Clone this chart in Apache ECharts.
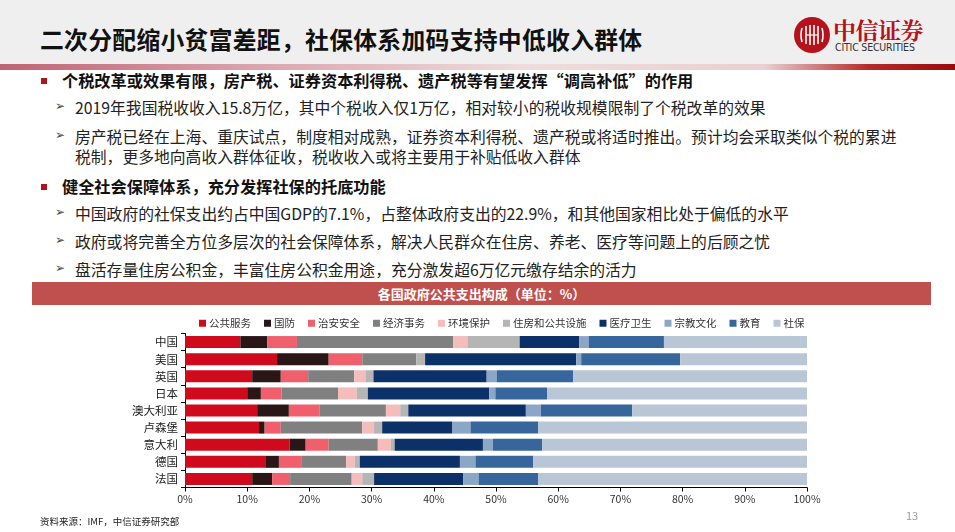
<!DOCTYPE html>
<html>
<head>
<meta charset="utf-8">
<script src="https://cdn.jsdelivr.net/npm/echarts@6/dist/echarts.min.js"></script>
<style>
  body { margin: 0; width: 955px; height: 532px; overflow: hidden; background: #fff;
         font-family: "Noto Sans CJK SC", sans-serif; color: #1a1a1a; position: relative; }
  .abs { position: absolute; white-space: nowrap; }
  #head { left: 0; top: 0; width: 955px; height: 64px; background: #efefef; }
  #band { left: 0; top: 64px; width: 955px; height: 6px;
          background: linear-gradient(to right, #c06272 0%, #d9a0aa 25%, #eedcdc 55%, #ead0d0 80%, #b52a2a 91%, #9a0a0a 100%); }
  #title { left: 40px; top: 21px; font-size: 23.8px; font-weight: bold; color: #111; letter-spacing: 0.3px; }
  .b1 { font-size: 16.2px; font-weight: bold; color: #111; }
  .sq { width: 6px; height: 6px; background: #b0141c; }
  .arr { font-family: "DejaVu Sans"; font-size: 12px; color: #444; }
  .s { font-size: 15.8px; color: #222; }
  #banner { left: 32px; top: 282px; width: 899px; height: 23px; background: #c0504d;
            color: #fff; font-weight: bold; font-size: 13px; text-align: center; line-height: 23px; }
  #chart { left: 0; top: 308px; width: 955px; height: 224px; }
</style>
</head>
<body>
<div class="abs" id="head"></div>
<div class="abs" id="band"></div>
<div class="abs" id="title">二次分配缩小贫富差距，社保体系加码支持中低收入群体</div>

<svg class="abs" style="left:793px;top:16px" width="40" height="40" viewBox="0 0 40 40">
  <circle cx="19" cy="19" r="18" fill="#b5121b"/>
  <path d="M9 12 Q7 19 9 26 M13 10 V28 M17 9 V29 M21 9 V29 M25 10 V28 M29 12 Q31 19 29 26" stroke="#fff" stroke-width="1.6" fill="none"/>
  <path d="M13 19 H25" stroke="#fff" stroke-width="1.2"/>
</svg>
<div class="abs" style="left:833px;top:13px;font-family:'Noto Serif CJK SC','Noto Sans CJK SC',serif;font-size:23px;font-weight:bold;color:#b5121b;letter-spacing:-0.5px">中信证券</div>
<div class="abs" style="left:835px;top:41px;font-family:'Liberation Sans Narrow','DejaVu Sans Condensed',sans-serif;font-size:10.5px;color:#333;letter-spacing:-0.2px">CITIC SECURITIES</div>

<div class="abs sq" style="left:41px;top:78px"></div>
<div class="abs b1" style="left:62px;top:68px">个税改革或效果有限，房产税、证券资本利得税、遗产税等有望发挥“调高补低”的作用</div>
<div class="abs arr" style="left:55px;top:99px">➢</div>
<div class="abs s" style="left:75px;top:96px">2019年我国税收收入15.8万亿，其中个税收入仅1万亿，相对较小的税收规模限制了个税改革的效果</div>
<div class="abs arr" style="left:55px;top:128px">➢</div>
<div class="abs s" style="left:75px;top:125px">房产税已经在上海、重庆试点，制度相对成熟，证券资本利得税、遗产税或将适时推出。预计均会采取类似个税的累进</div>
<div class="abs s" style="left:75px;top:145px">税制，更多地向高收入群体征收，税收收入或将主要用于补贴低收入群体</div>

<div class="abs sq" style="left:41px;top:184px"></div>
<div class="abs b1" style="left:62px;top:174px">健全社会保障体系，充分发挥社保的托底功能</div>
<div class="abs arr" style="left:55px;top:205px">➢</div>
<div class="abs s" style="left:75px;top:202px">中国政府的社保支出约占中国GDP的7.1%，占整体政府支出的22.9%，和其他国家相比处于偏低的水平</div>
<div class="abs arr" style="left:55px;top:233px">➢</div>
<div class="abs s" style="left:75px;top:230px">政府或将完善全方位多层次的社会保障体系，解决人民群众在住房、养老、医疗等问题上的后顾之忧</div>
<div class="abs arr" style="left:55px;top:261px">➢</div>
<div class="abs s" style="left:75px;top:258px">盘活存量住房公积金，丰富住房公积金用途，充分激发超6万亿元缴存结余的活力</div>

<div class="abs" id="banner">各国政府公共支出构成（单位：%）</div>
<div class="abs" id="chart"></div>

<div class="abs" style="left:40px;top:514px;font-size:9.5px;color:#222">资料来源：IMF，中信证券研究部</div>
<div class="abs" style="left:906px;top:507px;font-size:11px;color:#999">13</div>

<script>
// categories, top to bottom
const countries = ['中国', '美国', '英国', '日本', '澳大利亚', '卢森堡', '意大利', '德国', '法国'];
const items = ['公共服务', '国防', '治安安全', '经济事务', '环境保护', '住房和公共设施', '医疗卫生', '宗教文化', '教育', '社保'];
const colors = ['#cf0a1c', '#2a1616', '#f0606c', '#808080', '#f5bcbc', '#b5b5b5', '#0c3168', '#8ca7c6', '#36669b', '#b9c6d6'];

// shares (%) per item, one value per country in the order above
const publicService = [8.9, 14.8, 10.8, 10.0, 11.6, 11.9, 16.8, 12.9, 10.8];
const defence       = [4.3,  8.3,  4.6,  2.2,  5.1,  0.9,  2.6,  2.2,  3.2];
const publicOrder   = [4.8,  5.4,  4.4,  3.3,  4.9,  2.6,  3.7,  3.7,  2.9];
const economic      = [25.1, 8.7,  7.4,  9.1, 10.7, 13.1,  7.9,  7.1,  9.9];
const environment   = [2.3,  0.0,  1.8,  3.0,  2.3,  1.9,  2.1,  1.4,  1.7];
const housing       = [8.4,  1.4,  1.3,  1.8,  1.3,  1.3,  0.6,  0.8,  1.9];
const health        = [9.6, 24.3, 18.2, 19.5, 18.9, 11.3, 14.2, 16.1, 14.3];
const culture       = [1.5,  0.8,  1.6,  1.0,  2.4,  2.9,  1.6,  2.5,  2.5];
const education     = [12.1, 15.9, 12.3, 8.3, 14.7, 10.9,  7.9,  9.3,  9.6];
const social        = [23.0, 20.4, 37.6, 41.8, 28.1, 43.2, 42.6, 44.0, 43.2];

const values = [publicService, defence, publicOrder, economic, environment, housing, health, culture, education, social];

const chart = echarts.init(document.getElementById('chart'));
chart.setOption({
  animation: false,
  textStyle: { fontFamily: 'Noto Sans CJK SC' },
  legend: {
    top: 5, left: 194,
    itemWidth: 7, itemHeight: 7, itemGap: 13,
    icon: 'rect',
    textStyle: { fontSize: 10.5, color: '#333', padding: [0, 0, 0, -2] },
    data: items
  },
  grid: { left: 185, right: 148, top: 25.5, bottom: 44.5 },
  xAxis: {
    type: 'value', min: 0, max: 100, interval: 10,
    axisLine: { show: true, lineStyle: { color: '#000' } },
    axisTick: { show: true, length: 4, lineStyle: { color: '#000' } },
    axisLabel: { formatter: '{value}%', fontSize: 10.5, color: '#333', margin: 6 },
    splitLine: { show: false }
  },
  yAxis: {
    type: 'category', data: countries, inverse: true,
    axisLine: { show: true, lineStyle: { color: '#000' } },
    axisTick: { show: true, length: 4, lineStyle: { color: '#000' } },
    axisLabel: { fontSize: 11.5, color: '#222', margin: 7 }
  },
  series: items.map((name, i) => ({
    name, type: 'bar', stack: 'total', barWidth: 12,
    itemStyle: { color: colors[i] },
    data: values[i]
  }))
});
</script>
</body>
</html>
